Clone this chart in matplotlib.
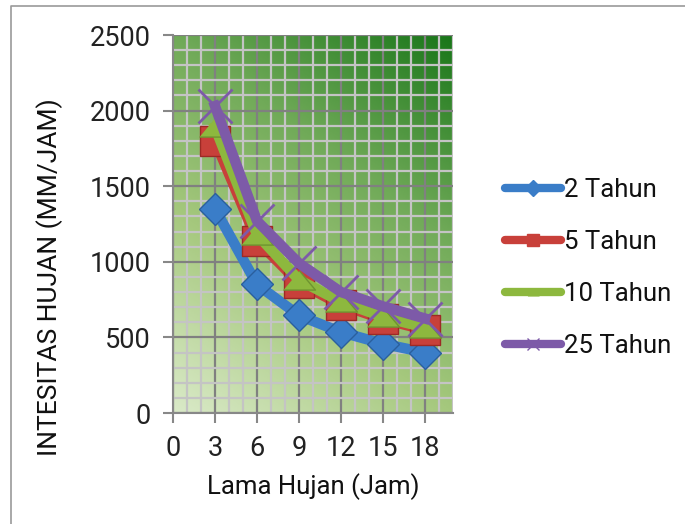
import matplotlib
matplotlib.use('Agg')
import matplotlib.pyplot as plt
import numpy as np
from matplotlib.colors import LinearSegmentedColormap
from matplotlib.lines import Line2D

plt.rcParams['font.family'] = ['Roboto', 'DejaVu Sans']

# data
durasi = [3, 6, 9, 12, 15, 18]
i_2th = [1350, 850, 645, 535, 458, 400]
i_5th = [1800, 1140, 860, 715, 620, 550]
i_10th = [1890, 1180, 880, 735, 635, 565]
i_25th = [2030, 1270, 990, 800, 705, 625]
labels = ['2 Tahun', '5 Tahun', '10 Tahun', '25 Tahun']
x_ticks = [0, 3, 6, 9, 12, 15, 18]
y_ticks = [0, 500, 1000, 1500, 2000, 2500]

W, H = 685, 524
fig = plt.figure(figsize=(W / 100, H / 100), dpi=100)
ax = fig.add_axes([173 / W, 1 - 413 / H, 280 / W, 378 / H])

# gradient background of the plot area (light bottom-left -> dark green top-right)
cmap = LinearSegmentedColormap.from_list('bg', [
    (0.0, (218 / 255, 234 / 255, 200 / 255)),
    (0.35, (165 / 255, 200 / 255, 125 / 255)),
    (0.65, (112 / 255, 170 / 255, 88 / 255)),
    (1.0, (25 / 255, 118 / 255, 25 / 255)),
])
gx, gy = np.meshgrid(np.linspace(0, 1, 200), np.linspace(0, 1, 200))
ax.imshow(0.35 * gx + 0.65 * gy, cmap=cmap, origin='lower', aspect='auto',
          extent=[0, 20, 0, 2500], zorder=0.1, interpolation='bilinear')

tri = [(-1, -0.6), (1, -0.6), (0, 0.6)]
series = [
    (i_2th, '#3a7dc8', 'D', 16, '#2a5f9e'),
    (i_5th, '#c8403a', 's', 21, '#9c2a25'),
    (i_10th, '#8db83e', tri, 23, '#6e9330'),
    (i_25th, '#7d5aa8', 'x', 24, '#7d5aa8'),
]
for vals, col, mk, ms, ec in series:
    ax.plot(durasi, vals, '-', color=col, lw=7.5, solid_joinstyle='round',
            marker=mk, markersize=ms, markerfacecolor=col,
            markeredgecolor=ec, markeredgewidth=2 if mk == 'x' else 1,
            zorder=3)

ax.set_xlim(0, 20)
ax.set_ylim(0, 2500)
ax.set_xticks(x_ticks)
ax.set_yticks(y_ticks)
ax.set_xticks(np.arange(0, 21, 1), minor=True)
ax.set_yticks(np.arange(0, 2501, 100), minor=True)
ax.set_axisbelow(True)
ax.grid(which='minor', color='#c4c4c4', lw=1.6, zorder=0.5)
ax.grid(which='major', color='#808080', lw=1.6, zorder=0.6)
ax.tick_params(which='minor', length=0)
ax.tick_params(which='major', direction='out', length=7, width=1.5,
               color='#888888', labelsize=19.5, labelcolor='#222222', pad=9)

for side in ('top', 'right'):
    ax.spines[side].set_visible(False)
for side in ('left', 'bottom'):
    ax.spines[side].set_color('#888888')
    ax.spines[side].set_linewidth(1.5)

ax.set_xlabel('Lama Hujan (Jam)', fontsize=18.5, labelpad=8, color='#111111')
fig.text(50 / W, 1 - 277 / H, 'INTESITAS HUJAN (MM/JAM)', rotation=90,
         ha='center', va='center', fontsize=19, color='#111111')

handles = [
    Line2D([], [], color=c, lw=6, solid_capstyle='round', marker=m,
           markersize=8, markerfacecolor=c, markeredgecolor=c)
    for _, c, m, _, _ in series
]
fig.legend(handles, labels, loc='center left', bbox_to_anchor=(492 / W, 1 - 268 / H),
           frameon=False, fontsize=18.5, handlelength=2.2, handletextpad=0.1,
           labelspacing=1.1, borderpad=0, labelcolor='#111111')

# outer chart border (only top and left edges visible in the reference)
fig.add_artist(Line2D([10.5 / W, 10.5 / W, 1], [0, 1 - 5.5 / H, 1 - 5.5 / H],
                      transform=fig.transFigure, color='#9a9a9a', lw=1.2))

fig.savefig('out.png', dpi=100)
